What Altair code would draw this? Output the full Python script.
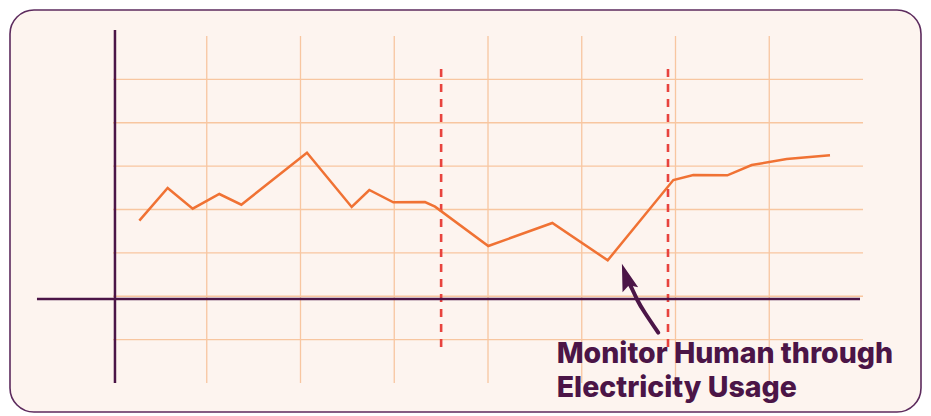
import altair as alt
import pandas as pd

# ---- data (in chart units: x 0..8, y -2..6) ----
line_x = [0.281, 0.583, 0.850, 1.134, 1.369, 2.069, 2.546, 2.734, 2.990, 3.328,
          3.435, 4.003, 4.686, 5.277, 5.977, 6.190, 6.553, 6.813, 7.186, 7.648]
line_y = [1.742, 2.496, 2.018, 2.357, 2.111, 3.310, 2.058, 2.450, 2.166, 2.173,
          2.065, 1.158, 1.689, 0.829, 2.680, 2.795, 2.788, 3.026, 3.164, 3.249]

hgrid_y = [-1, 0, 1, 2, 3, 4, 5]
vgrid_x = [1, 2, 3, 4, 5, 6, 7]
marker_x = [3.5, 5.92]

arrow_x = [5.816, 5.675, 5.593, 5.530, 5.500]
arrow_y = [-0.840, -0.386, -0.086, 0.200, 0.300]
head_x = [5.478]
head_y = [0.420]

label_lines = ["Monitor Human through", "Electricity Usage"]
label_x = [4.733]
label_y = [-1.539]

PURPLE = "#4b1547"
ORANGE = "#f07234"
GRID = "#f8c6a0"
RED = "#e8433e"

xs = alt.Scale(domain=[0, 8], range=[103, 853], nice=False, zero=False)
ys = alt.Scale(domain=[-2, 6], range=[373, 26], nice=False, zero=False)


def X(f):
    return alt.X(f, type="quantitative", scale=xs, axis=None)


def Y(f):
    return alt.Y(f, type="quantitative", scale=ys, axis=None)


hgrid = alt.Chart(pd.DataFrame({"y": hgrid_y, "x": 0, "x2": 8})).mark_rule(
    color=GRID, strokeWidth=1.3
).encode(x=X("x"), x2="x2", y=Y("y"))

vgrid = alt.Chart(pd.DataFrame({"x": vgrid_x, "y": -2, "y2": 6})).mark_rule(
    color=GRID, strokeWidth=1.3
).encode(x=X("x"), y=Y("y"), y2="y2")

axis_v = alt.Chart(pd.DataFrame({"x": [0.021], "y": [-2], "y2": [6.138]})).mark_rule(
    color=PURPLE, strokeWidth=2.5
).encode(x=X("x"), y=Y("y"), y2="y2")

axis_h = alt.Chart(pd.DataFrame({"x": [-0.811], "x2": [7.968], "y": [-0.063]})).mark_rule(
    color=PURPLE, strokeWidth=2.5
).encode(x=X("x"), x2="x2", y=Y("y"))

markers = alt.Chart(pd.DataFrame({"x": marker_x, "y": -1.17, "y2": 5.40})).mark_rule(
    color=RED, strokeWidth=2.6, strokeDash=[8, 7]
).encode(x=X("x"), y=Y("y"), y2="y2")

series = alt.Chart(pd.DataFrame({"x": line_x, "y": line_y})).mark_line(
    color=ORANGE, strokeWidth=2.5
).encode(x=X("x"), y=Y("y"))

shaft = alt.Chart(pd.DataFrame({"x": arrow_x, "y": arrow_y, "i": range(len(arrow_x))})).mark_line(
    color=PURPLE, strokeWidth=4, interpolate="natural", strokeCap="round"
).encode(x=X("x"), y=Y("y"), order="i:O")

head = alt.Chart(pd.DataFrame({"x": head_x, "y": head_y})).mark_point(
    shape="M0,-1.1L0.6,0.9L0,0.55L-0.6,0.9Z", filled=True, color=PURPLE, opacity=1,
    size=750, angle=342, strokeWidth=0
).encode(x=X("x"), y=Y("y"))

label = alt.Chart(pd.DataFrame({"x": label_x, "y": label_y, "t": ["\n".join(label_lines)]})).mark_text(
    align="left", baseline="alphabetic", font="Inter", fontWeight=800, fontSize=28.5,
    lineHeight=34, lineBreak="\n", color=PURPLE
).encode(x=X("x"), y=Y("y"), text="t:N")

chart = alt.layer(hgrid, vgrid, markers, axis_h, axis_v, series, shaft, head, label).properties(
    width=911, height=402, padding={"left": 2, "right": 2, "top": 2, "bottom": 2},
    autosize="none", background="white"
).configure_view(
    fill="#fdf4ef", stroke="#5c2a5d", strokeWidth=1.6, cornerRadius=24
)

chart.save("out.html", embed_options={"renderer": "svg", "actions": False})
